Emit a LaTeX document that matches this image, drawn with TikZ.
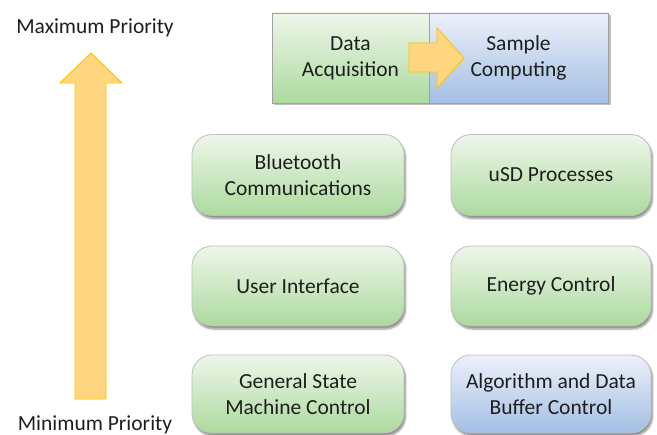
\documentclass[tikz,border=0pt]{standalone}
\usepackage{fontspec}
\setmainfont{Carlito}
\usetikzlibrary{shadows,shadows.blur}

\definecolor{greentop}{RGB}{238,246,234}
\definecolor{greenbot}{RGB}{172,218,158}
\definecolor{bluetop}{RGB}{236,240,249}
\definecolor{bluebot}{RGB}{163,191,228}
\definecolor{boxline}{RGB}{190,190,190}
\definecolor{arrowfill}{RGB}{255,214,128}
\definecolor{arrowline}{RGB}{255,192,0}
\definecolor{txt}{RGB}{30,30,30}

\tikzset{
  txtstyle/.style={font=\fontsize{21.5bp}{26bp}\selectfont, text=txt, align=center},
  task/.style={txtstyle, draw=boxline, line width=0.8bp, rounded corners=20bp,
    minimum width=212bp, minimum height=81bp, inner sep=0pt,
    blur shadow={shadow blur steps=6, shadow xshift=1.5bp, shadow yshift=-3bp, shadow opacity=45}},
  rightcol/.style={minimum width=200bp},
  greenfill/.style={top color=greentop, bottom color=greenbot},
  bluefill/.style={top color=bluetop, bottom color=bluebot},
  halfbox/.style={txtstyle, draw=boxline!85!black, line width=0.8bp,
    minimum height=90bp, inner sep=0pt},
  prioarrow/.style={fill=arrowfill, draw=arrowline, line width=0.9bp, line join=miter},
  priolabel/.style={txtstyle}
}

\begin{document}
\begin{tikzpicture}[x=1bp,y=-1bp]
\useasboundingbox (0,0) rectangle (657,435);

% top: acquisition and computing stage
\fill[black,opacity=0.25] (274,15) rectangle (611,105);
\node[halfbox, greenfill, minimum width=157bp] (acq) at (350.5,58) {Data\\Acquisition};
\node[halfbox, bluefill, minimum width=179bp] (comp) at (518.5,58) {Sample\\Computing};

% arrow between the two stages
\path[prioarrow] (409,43) -- (437,43) -- (437,28) -- (464,58) -- (437,88) -- (437,72) -- (409,72) -- cycle;

% priority scale
\node[priolabel] (maxp) at (95,28) {Maximum Priority};
\node[priolabel] (minp) at (95,425) {Minimum Priority};
\path[prioarrow] (75,399) -- (75,83) -- (60,83) -- (91,53) -- (122,83) -- (106,83) -- (106,399) -- cycle;

% task blocks
\node[task, greenfill] (bt)  at (298,175) {Bluetooth\\Communications};
\node[task, greenfill, rightcol] (usd) at (551,175) {uSD Processes};
\node[task, greenfill, minimum height=80bp] (ui)  at (298,286) {User Interface};
\node[task, greenfill, rightcol, minimum height=80bp] (en)  at (551,286) {Energy Control};
\node[task, greenfill, minimum height=78bp] (gsm) at (298,394) {General State\\Machine Control};
\node[task, bluefill, rightcol, minimum height=78bp] (alg) at (551,394) {Algorithm and Data\\Buffer Control};
\end{tikzpicture}
\end{document}
